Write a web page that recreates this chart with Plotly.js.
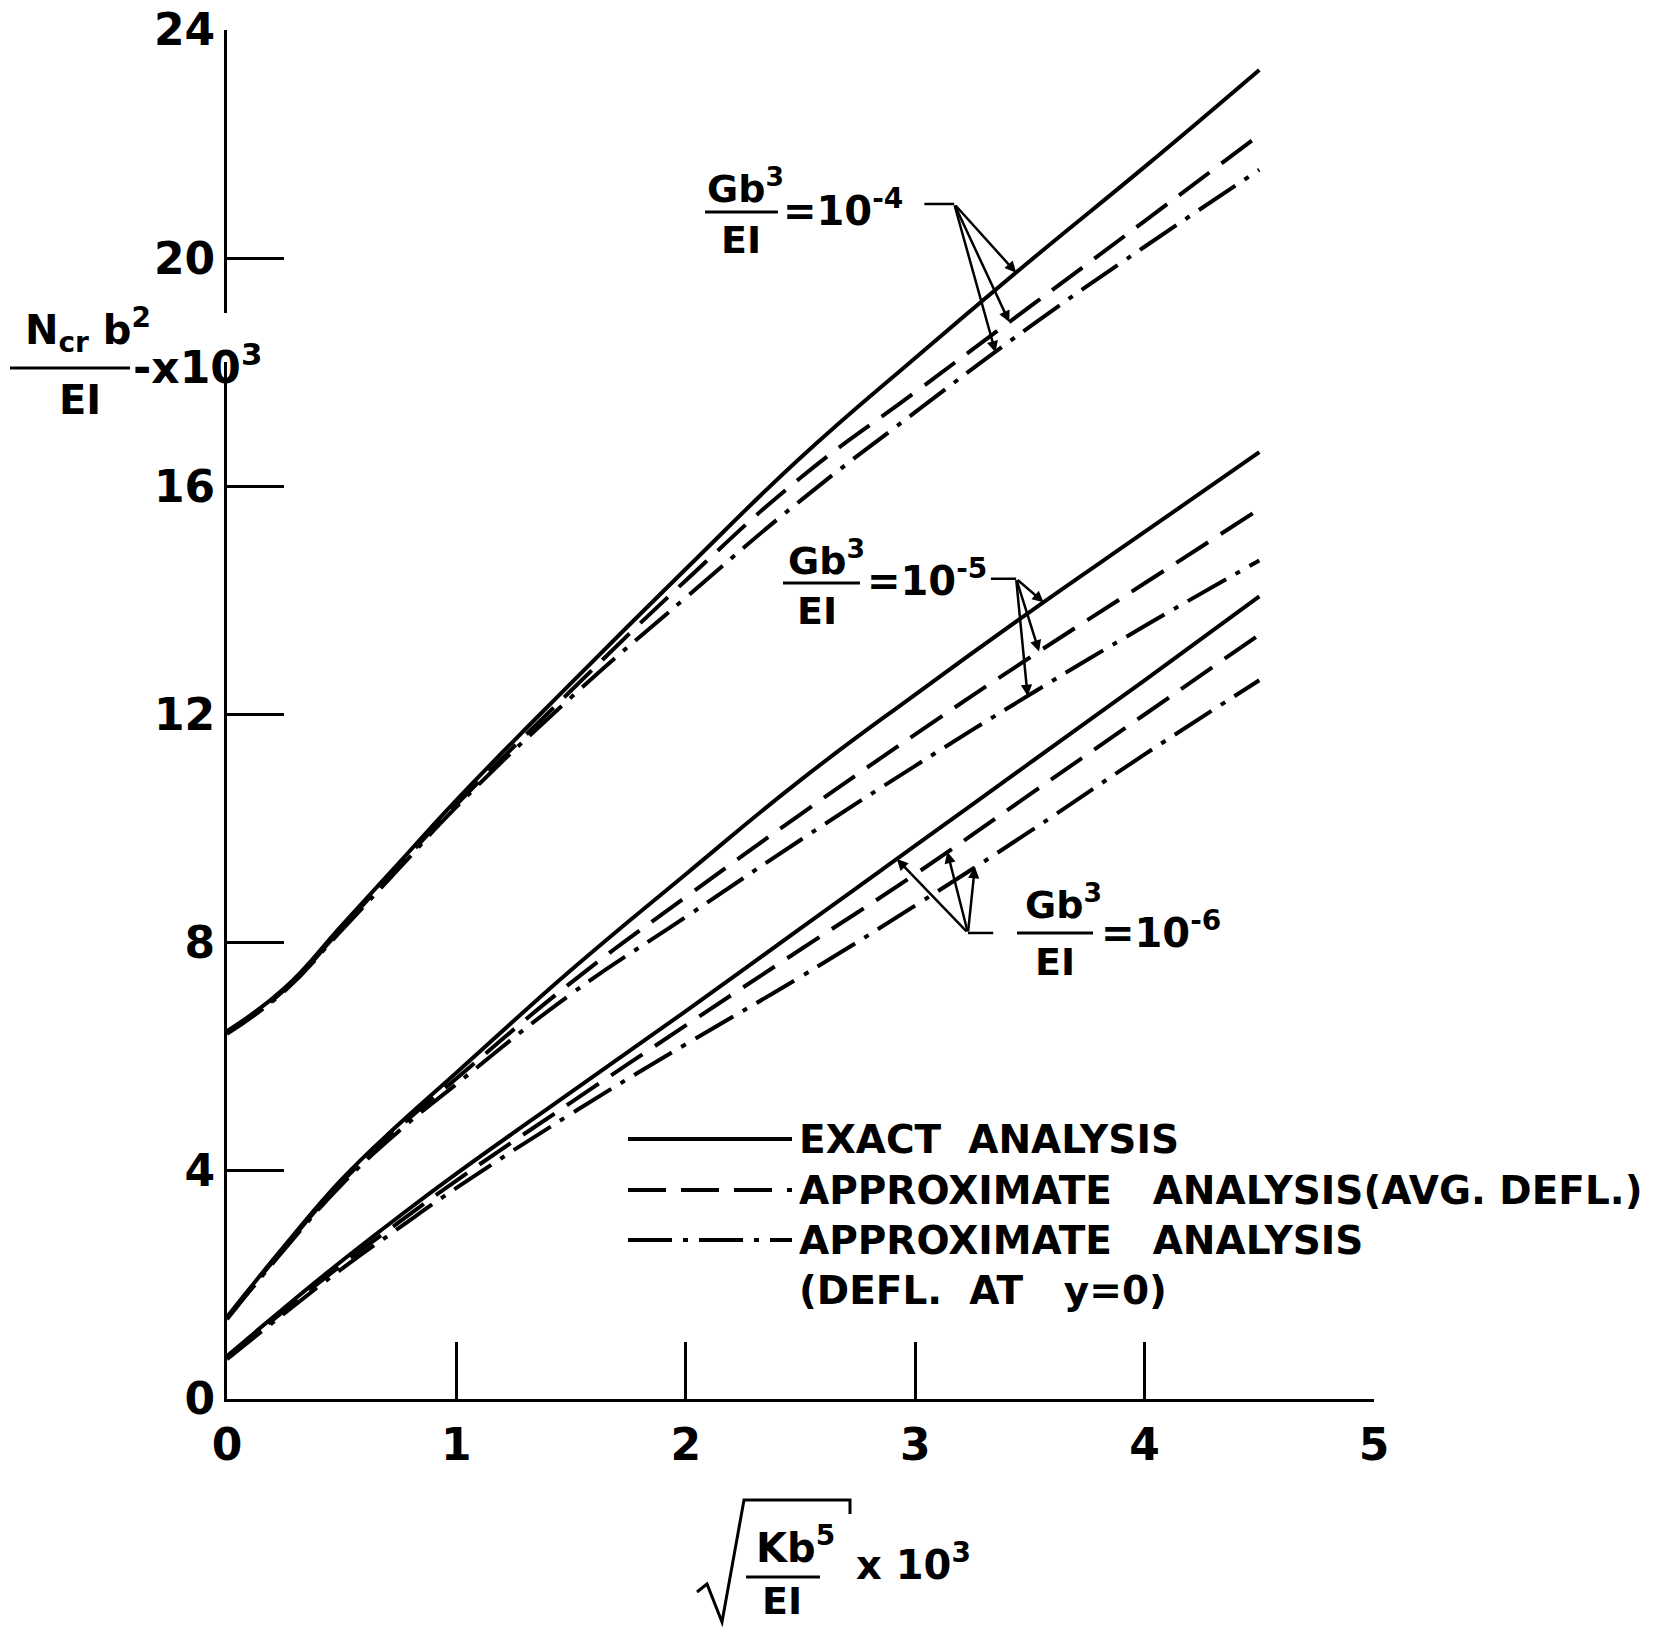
<!DOCTYPE html>
<html><head><meta charset="utf-8">
<script src="https://cdn.plot.ly/plotly-3.0.1.min.js"></script>
<style>html,body{margin:0;padding:0;background:#fff}</style>
</head><body><div id="chart" style="width:1664px;height:1627px"></div>
<script>
// ---- data ----
const xVals = [0, 0.25, 0.5, 0.75, 1.0, 1.5, 2.0, 2.5, 3.0, 3.5, 4.0, 4.5];
// Gb^3/EI = 1e-4
const g4Exact  = [6.45, 7.20, 8.30, 9.40, 10.50, 12.55, 14.55, 16.50, 18.25, 19.95, 21.60, 23.30];
const g4Avg    = [6.42, 7.17, 8.25, 9.35, 10.42, 12.42, 14.35, 16.15, 17.65, 19.15, 20.65, 22.16];
const g4Y0     = [6.40, 7.15, 8.22, 9.30, 10.38, 12.30, 14.05, 15.75, 17.30, 18.80, 20.20, 21.55];
// Gb^3/EI = 1e-5
const g5Exact  = [1.44, 2.68, 3.85, 4.82, 5.72, 7.52, 9.20, 10.85, 12.35, 13.80, 15.20, 16.60];
const g5Avg    = [1.42, 2.65, 3.80, 4.76, 5.62, 7.30, 8.80, 10.25, 11.65, 13.00, 14.30, 15.60];
const g5Y0     = [1.40, 2.62, 3.76, 4.70, 5.52, 7.10, 8.45, 9.80, 11.10, 12.35, 13.55, 14.70];
// Gb^3/EI = 1e-6
const g6Exact  = [0.75, 1.60, 2.42, 3.20, 3.95, 5.38, 6.80, 8.25, 9.70, 11.15, 12.60, 14.07];
const g6Avg    = [0.72, 1.55, 2.35, 3.10, 3.83, 5.20, 6.55, 7.88, 9.20, 10.60, 12.00, 13.40];
const g6Y0     = [0.70, 1.50, 2.28, 3.00, 3.70, 5.00, 6.22, 7.40, 8.65, 9.95, 11.30, 12.60];

const xTicks = [0, 1, 2, 3, 4, 5];
const yTicks = [0, 4, 8, 12, 16, 20, 24];
const legendLabels = ['EXACT\u00a0\u00a0ANALYSIS',
  'APPROXIMATE\u00a0\u00a0\u00a0ANALYSIS(AVG.\u00a0DEFL.)',
  'APPROXIMATE\u00a0\u00a0\u00a0ANALYSIS',
  '(DEFL.\u00a0\u00a0AT\u00a0\u00a0\u00a0y=0)'];
const groupExps = ['-4', '-5', '-6'];

// ---- geometry / styles ----
const L = 227, T = 30, W = 1147, H = 1369;
const px = v => (v - L) / W;
const py = v => (T + H - v) / H;
const FONT = 'DejaVu Sans, Liberation Sans, sans-serif';
const DASH = {exact: 'solid', avg: '38px,15px', y0: '44px,11px,5px,11px'};

function interp(xs, ys, x) {
  for (let i = 0; i < xs.length - 1; i++) {
    if (x >= xs[i] && x <= xs[i + 1]) {
      const t = (x - xs[i]) / (xs[i + 1] - xs[i]);
      return ys[i] + t * (ys[i + 1] - ys[i]);
    }
  }
  return ys[ys.length - 1];
}

const series = [
  [g4Exact, 'exact'], [g4Avg, 'avg'], [g4Y0, 'y0'],
  [g5Exact, 'exact'], [g5Avg, 'avg'], [g5Y0, 'y0'],
  [g6Exact, 'exact'], [g6Avg, 'avg'], [g6Y0, 'y0']
];
const traces = series.map(([ys, kind]) => ({
  x: xVals, y: ys, type: 'scatter', mode: 'lines', showlegend: false, hoverinfo: 'skip',
  line: {color: '#000', width: 4, dash: DASH[kind], shape: 'spline', smoothing: 1.3}
}));

const annotations = [];
const shapes = [];
const txt = (text, x, y, size, xanchor, extra) => annotations.push(Object.assign({
  text: text, xref: 'paper', yref: 'paper', x: px(x), y: py(y), xanchor: xanchor || 'center',
  yanchor: 'middle', showarrow: false, borderpad: 0,
  font: {family: FONT, size: size, color: '#000', weight: 'bold'}
}, extra || {}));
const hline = (x0, x1, y, w) => shapes.push({type: 'line', xref: 'paper', yref: 'paper',
  x0: px(x0), x1: px(x1), y0: py(y), y1: py(y), line: {color: '#000', width: w || 3}});

// y-axis title (fraction)
shapes.push({type: 'rect', xref: 'paper', yref: 'paper', x0: px(221), x1: px(234), y0: py(362), y1: py(313),
  fillcolor: '#fff', line: {width: 0}, layer: 'above'});
txt('N<sub>cr</sub> b<sup>2</sup>', 88, 330, 40);
hline(10, 130, 368);
txt('-x10<sup>3</sup>', 132, 364, 44, 'left');
txt('EI', 80, 400, 40);

// x-axis title (radical)
shapes.push({type: 'path', xref: 'paper', yref: 'paper',
  path: `M${px(697)},${py(1592)} L${px(707)},${py(1584)} L${px(722)},${py(1622)} L${px(744)},${py(1500)} L${px(850)},${py(1500)} L${px(850)},${py(1514)}`,
  line: {color: '#000', width: 3}});
txt('Kb<sup>5</sup>', 795, 1545, 40);
hline(746, 820, 1577);
txt('EI', 782, 1601, 38);
txt('x 10<sup>3</sup>', 855, 1562, 40, 'left');

// group labels
const labelPos = [
  {num: [745, 186], bar: [705, 778, 212], den: [741, 240], eq: [782, 208]},
  {num: [826, 558], bar: [783, 860, 583], den: [817, 611], eq: [866, 578]},
  {num: [1063, 902], bar: [1017, 1093, 933], den: [1055, 962], eq: [1100, 930]}
];
labelPos.forEach((p, i) => {
  txt('Gb<sup>3</sup>', p.num[0], p.num[1], 38);
  hline(p.bar[0], p.bar[1], p.bar[2]);
  txt('EI', p.den[0], p.den[1], 38);
  txt('=10<sup>' + groupExps[i] + '</sup>', p.eq[0], p.eq[1], 40, 'left');
});

// leaders: vertex, horizontal end, and target x on each curve of the group
const leaders = [
  {v: [3.17, 20.95], h: 3.04, tx: [3.44, 3.41, 3.35], ys: [g4Exact, g4Avg, g4Y0]},
  {v: [3.44, 14.38], h: 3.33, tx: [3.56, 3.54, 3.49], ys: [g5Exact, g5Avg, g5Y0]},
  {v: [3.23, 8.17], h: 3.34, tx: [2.92, 3.14, 3.26], ys: [g6Exact, g6Avg, g6Y0]}
];
leaders.forEach(ld => {
  shapes.push({type: 'line', xref: 'x', yref: 'y', x0: ld.h, x1: ld.v[0], y0: ld.v[1], y1: ld.v[1],
    line: {color: '#000', width: 2.5}});
  ld.tx.forEach((tx, k) => {
    annotations.push({xref: 'x', yref: 'y', axref: 'x', ayref: 'y', x: tx, y: interp(xVals, ld.ys[k], tx),
      ax: ld.v[0], ay: ld.v[1], text: '', showarrow: true,
      arrowhead: 2, arrowsize: 0.9, arrowwidth: 2.5, arrowcolor: '#000', standoff: 0, startstandoff: 0});
  });
});

// legend (drawn manually)
const legRows = [1139, 1190, 1240, 1290];
const legKinds = ['exact', 'avg', 'y0'];
legKinds.forEach((k, i) => {
  shapes.push({type: 'line', xref: 'paper', yref: 'paper', x0: px(628), x1: px(792),
    y0: py(legRows[i]), y1: py(legRows[i]), line: {color: '#000', width: 4, dash: DASH[k]}});
});
legendLabels.forEach((t, i) => txt(t, 798, legRows[i], 39, 'left'));

const axisCommon = {
  showgrid: false, zeroline: false, showline: true, linecolor: '#000', linewidth: 3,
  ticks: 'inside', ticklen: 57, tickwidth: 3, tickcolor: '#000', mirror: false,
  tickfont: {family: FONT, size: 44, color: '#000', weight: 'bold'}
};
const layout = {
  width: 1664, height: 1627, autosize: false,
  margin: {l: L, r: 1664 - L - W, t: T, b: 1627 - T - H, pad: 0},
  paper_bgcolor: '#fff', plot_bgcolor: '#fff', showlegend: false,
  xaxis: Object.assign({}, axisCommon, {range: [0, 5], tickvals: xTicks, ticktext: xTicks.map(String),
    ticklabelstandoff: 5}),
  yaxis: Object.assign({}, axisCommon, {range: [0, 24], tickvals: yTicks, ticktext: yTicks.map(String),
    ticklabelstandoff: 0}),
  annotations: annotations, shapes: shapes
};
Plotly.newPlot('chart', traces, layout, {displayModeBar: false, staticPlot: true});
</script></body></html>
